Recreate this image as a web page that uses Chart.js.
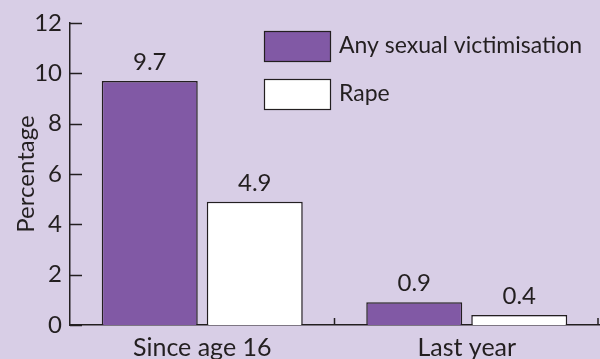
<!DOCTYPE html>
<html>
<head>
<meta charset="utf-8">
<script src="https://cdn.jsdelivr.net/npm/chart.js@4/dist/chart.umd.min.js"></script>
<style>
  html, body { margin: 0; padding: 0; background: #d8cee6; }
  #wrap { width: 600px; height: 359px; position: relative; }
</style>
</head>
<body>
<div id="wrap"><canvas id="c" width="600" height="359"></canvas></div>
<script>
var categories = ['Since age 16', 'Last year'];
var seriesNames = ['Any sexual victimisation', 'Rape'];
var anyVictimisation = [9.7, 0.9];
var rape = [4.9, 0.4];
var yTicks = [0, 2, 4, 6, 8, 10, 12];

var ink = '#231f20';
var purple = '#8159a5';
var fontFamily = 'Lato, "Open Sans", sans-serif';

// ticks pointing into the plot, value labels and the boxed legend
var decorations = {
    id: 'decorations',
    afterDatasetsDraw: function (chart) {
        var ctx = chart.ctx;
        var x = chart.scales.x, y = chart.scales.y;
        var area = chart.chartArea;
        ctx.save();
        ctx.strokeStyle = ink;
        ctx.lineWidth = 1.5;

        // y ticks
        yTicks.forEach(function (v) {
            var py = Math.round(y.getPixelForValue(v)) + 0.5;
            ctx.beginPath();
            ctx.moveTo(area.left, py);
            ctx.lineTo(area.left + 12, py);
            ctx.stroke();
        });

        // x ticks at category boundaries
        var step = x.getPixelForValue(1) - x.getPixelForValue(0);
        for (var i = 0; i < categories.length; i++) {
            var px = Math.min(x.getPixelForValue(i) + step / 2, area.right - 1);
            ctx.beginPath();
            ctx.moveTo(px, area.bottom);
            ctx.lineTo(px, area.bottom - 7);
            ctx.stroke();
        }

        // value labels
        ctx.fillStyle = ink;
        ctx.font = '24px ' + fontFamily;
        ctx.textAlign = 'center';
        ctx.textBaseline = 'alphabetic';
        chart.data.datasets.forEach(function (ds, di) {
            chart.getDatasetMeta(di).data.forEach(function (bar, j) {
                ctx.fillText(ds.data[j].toFixed(1), bar.x, bar.y - 11);
            });
        });

        // legend
        ctx.font = '23px ' + fontFamily;
        ctx.textAlign = 'left';
        ctx.textBaseline = 'middle';
        ctx.lineWidth = 1.2;
        chart.data.datasets.forEach(function (ds, di) {
            var top = 31 + di * 48;
            ctx.fillStyle = ds.backgroundColor;
            ctx.fillRect(264, top, 66, 30);
            ctx.strokeRect(264.5, top + 0.5, 66, 30);
            ctx.fillStyle = ink;
            ctx.fillText(ds.label, 339, top + 15);
        });
        ctx.restore();
    }
};

new Chart(document.getElementById('c'), {
    type: 'bar',
    data: {
        labels: categories,
        datasets: [
            { label: seriesNames[0], data: anyVictimisation, backgroundColor: purple, borderColor: ink, borderWidth: 1.5 },
            { label: seriesNames[1], data: rape, backgroundColor: '#ffffff', borderColor: ink, borderWidth: 1.5 }
        ]
    },
    options: {
        responsive: false,
        animation: false,
        categoryPercentage: 0.794,
        barPercentage: 0.914,
        layout: { padding: { top: 23, right: 1, left: 0, bottom: 0 } },
        plugins: {
            legend: { display: false },
            tooltip: { enabled: false }
        },
        scales: {
            x: {
                grid: { display: false, drawTicks: false },
                border: { color: ink, width: 1.5 },
                ticks: { color: ink, font: { family: fontFamily, size: 25 }, padding: 8 },
                afterFit: function (s) { s.height = 34; }
            },
            y: {
                min: 0,
                max: 12,
                grid: { display: false, drawTicks: false },
                border: { color: ink, width: 1.5 },
                ticks: { stepSize: 2, color: ink, font: { family: fontFamily, size: 24 }, padding: 8 },
                title: { display: true, text: 'Percentage', color: ink, font: { family: fontFamily, size: 24 }, padding: { top: 12, bottom: 0 } },
                afterFit: function (s) { s.width = 70; }
            }
        }
    },
    plugins: [decorations]
});
</script>
</body>
</html>
